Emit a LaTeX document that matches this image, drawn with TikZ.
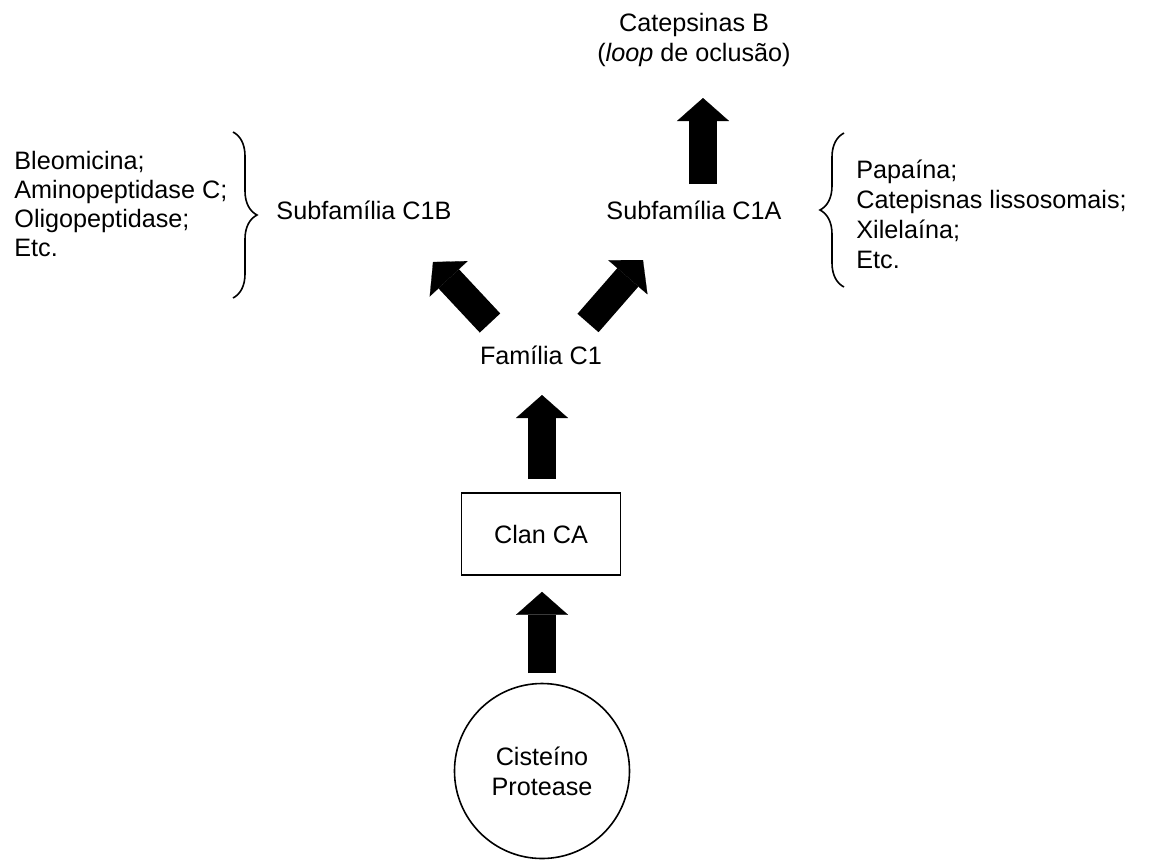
\documentclass[tikz,border=0pt]{standalone}
\usepackage{fontspec}
\setmainfont{Liberation Sans}
\usetikzlibrary{arrows.meta,calc,decorations.pathreplacing}
\tikzset{
  lbl/.style={inner sep=0pt,font=\fontsize{12.6}{15}\selectfont,align=center},
  listtxt/.style={inner sep=0pt,font=\fontsize{12.6}{15}\selectfont,align=left,anchor=west},
  thin/.style={line width=0.8pt},
  bigarrow/.style={line width=14pt,-{Triangle[width=26pt,length=11.5pt,line width=0.1pt]}},
  bracedeco/.style={thin,decorate,decoration={brace,amplitude=12pt,aspect=0.5}}
}
\begin{document}
\begin{tikzpicture}[x=0.5pt,y=-0.5pt]
\useasboundingbox (0,0) rectangle (1152,859);
% nodes
\node[lbl,draw,thin,circle,minimum size=87.5pt] (circ) at (542,771) {Cisteíno\\Protease};
\node[lbl,draw,thin,rectangle,minimum width=79.5pt,minimum height=41pt] (clan) at (541,534) {Clan CA};
\node[lbl] (fam) at (541,355) {Família C1};
\node[lbl] (c1b) at (364,210) {Subfamília C1B};
\node[lbl] (c1a) at (694,210) {Subfamília C1A};
\node[lbl] (catb) at (694,40) {Catepsinas B\\(\textit{loop} de oclusão)};
\node[listtxt,font=\fontsize{12.6}{14.4}\selectfont] (llist) at (14,204) {Bleomicina;\\Aminopeptidase C;\\Oligopeptidase;\\Etc.};
\node[listtxt] (rlist) at (856,214) {Papaína;\\Catepisnas lissosomais;\\Xilelaína;\\Etc.};
% braces
\draw[bracedeco] (233,132) -- (233,298);
\draw[bracedeco] (844,287) -- (844,133);
% arrows
\draw[bigarrow] ($(circ.north)+(0,-9.5)$) -- ($(clan.south)+(1,16)$);
\draw[bigarrow] ($(clan.north)+(1,-13)$) -- ($(fam.center)+(1,40)$);
\draw[bigarrow] ($(fam.center)+(-51,-32)$) -- ($(c1b.center)+(69,52)$);
\draw[bigarrow] ($(fam.center)+(47,-32)$) -- ($(c1a.center)+(-51,50)$);
\draw[bigarrow] ($(c1a.center)+(9,-26)$) -- ($(catb.center)+(9,58)$);
\end{tikzpicture}
\end{document}
